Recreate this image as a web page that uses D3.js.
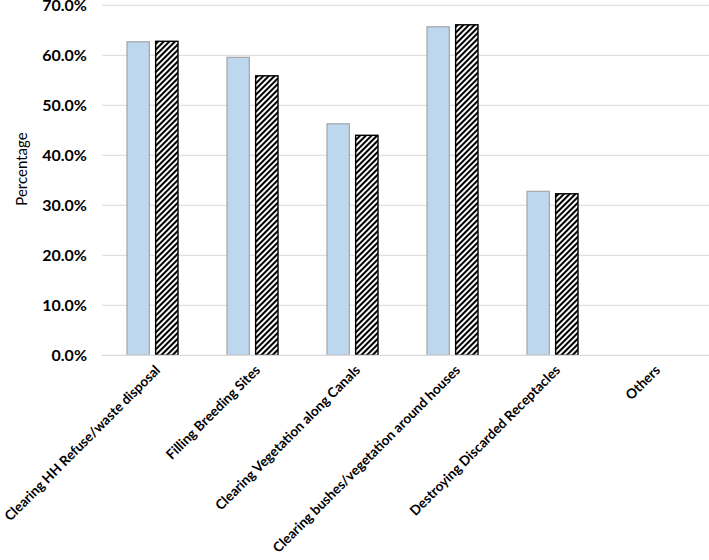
<!DOCTYPE html>
<html>
<head>
<meta charset="utf-8">
<script src="https://cdn.jsdelivr.net/npm/d3@7"></script>
<style>
  body { margin: 0; background: #fff; }
  svg { display: block; }
</style>
</head>
<body>
<svg id="chart" width="709" height="560"></svg>
<script>
const categories = [
  "Clearing HH Refuse/waste disposal",
  "Filling Breeding Sites",
  "Clearing Vegetation along Canals",
  "Clearing bushes/vegetation around houses",
  "Destroying Discarded Receptacles",
  "Others"
];
const seriesNames = ["Series A", "Series B"];
const seriesA = [62.7, 59.6, 46.3, 65.7, 32.8, 0];
const seriesB = [62.8, 55.9, 44.0, 66.1, 32.3, 0];
const yTicks = [0, 10, 20, 30, 40, 50, 60, 70];
const yTitle = "Percentage";

const svg = d3.select("#chart");
const W = 709, H = 560;

const x0 = d3.scaleBand().domain(categories).range([102, 702]).padding(0);
const x1 = d3.scaleBand().domain(seriesNames).range([25, 76]).paddingInner(0.22);
const y = d3.scaleLinear().domain([0, 70]).range([355.3, 5.3]);

const defs = svg.append("defs");
const pat = defs.append("pattern")
  .attr("id", "hatch")
  .attr("patternUnits", "userSpaceOnUse")
  .attr("width", 4).attr("height", 4)
  .attr("patternTransform", "rotate(45)");
pat.append("rect").attr("width", 4).attr("height", 4).attr("fill", "#fff");
pat.append("line").attr("x1", 1).attr("y1", 0).attr("x2", 1).attr("y2", 4)
  .attr("stroke", "#000").attr("stroke-width", 2.1);

// gridlines
svg.append("g").selectAll("line").data(yTicks.filter(d => d > 0)).join("line")
  .attr("x1", 102).attr("x2", W)
  .attr("y1", d => y(d)).attr("y2", d => y(d))
  .attr("stroke", "#d9d9d9").attr("stroke-width", 1);

// y tick labels
svg.append("g").selectAll("text").data(yTicks).join("text")
  .attr("x", 87).attr("y", d => y(d))
  .attr("dy", "0.36em")
  .attr("text-anchor", "end")
  .attr("font-family", "Lato, 'Open Sans', sans-serif")
  .attr("font-weight", "bold")
  .attr("font-size", 16)
  .attr("fill", "#000")
  .text(d => d.toFixed(1) + "%");

// y title
svg.append("text")
  .attr("transform", `translate(27,169) rotate(-90)`)
  .attr("text-anchor", "middle")
  .attr("font-family", "Lato, 'Open Sans', sans-serif")
  .attr("font-size", 15)
  .attr("fill", "#000")
  .text(yTitle);

// bars
const data = categories.map((c, i) => ({ cat: c, vals: [seriesA[i], seriesB[i]] }));
const groups = svg.append("g").selectAll("g").data(data).join("g")
  .attr("transform", d => `translate(${x0(d.cat)},0)`);

groups.selectAll("rect").data(d => d.vals.map((v, j) => ({ s: seriesNames[j], v, j })))
  .join("rect")
  .attr("x", d => x1(d.s))
  .attr("width", x1.bandwidth())
  .attr("y", d => y(d.v))
  .attr("height", d => y(0) - y(d.v))
  .attr("fill", d => d.j === 0 ? "#bdd7ee" : "url(#hatch)")
  .attr("stroke", d => d.v === 0 ? "none" : (d.j === 0 ? "#a5a5a5" : "#000"))
  .attr("stroke-width", d => d.j === 0 ? 1.2 : 1.4);

// x axis baseline
svg.append("line")
  .attr("x1", 102).attr("x2", W)
  .attr("y1", y(0)).attr("y2", y(0))
  .attr("stroke", "#d9d9d9").attr("stroke-width", 1.2);

// x labels
svg.append("g").selectAll("text").data(categories).join("text")
  .attr("transform", d => `translate(${x0(d) + x0.bandwidth() / 2 + 9},${371}) rotate(-45)`)
  .attr("text-anchor", "end")
  .attr("font-family", "Lato, 'Open Sans', sans-serif")
  .attr("font-weight", "bold")
  .attr("font-size", 13.6)
  .attr("fill", "#000")
  .text(d => d);
</script>
</body>
</html>
